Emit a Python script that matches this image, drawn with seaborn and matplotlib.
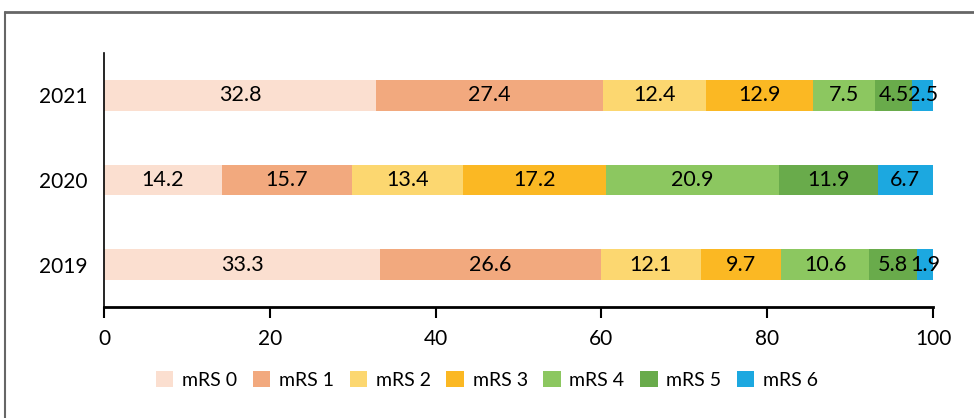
import numpy as np
import seaborn as sns
import matplotlib.pyplot as plt
from matplotlib.lines import Line2D
from matplotlib.patches import Patch

sns.set_theme(style="white")
plt.rcParams['font.family'] = ['Lato', 'DejaVu Sans']

years = ["2021", "2020", "2019"]
categories = ["mRS 0", "mRS 1", "mRS 2", "mRS 3", "mRS 4", "mRS 5", "mRS 6"]
vals_2021 = [32.8, 27.4, 12.4, 12.9, 7.5, 4.5, 2.5]
vals_2020 = [14.2, 15.7, 13.4, 17.2, 20.9, 11.9, 6.7]
vals_2019 = [33.3, 26.6, 12.1, 9.7, 10.6, 5.8, 1.9]
labels_2021 = ["32.8", "27.4", "12.4", "12.9", "7.5", "4.5", "2.5"]
labels_2020 = ["14.2", "15.7", "13.4", "17.2", "20.9", "11.9", "6.7"]
labels_2019 = ["33.3", "26.6", "12.1", "9.7", "10.6", "5.8", "1.9"]
colors = ["#FBDFD0", "#F2A97E", "#FCD770", "#FBB823", "#8CC760", "#69AB4B", "#1CA8E0"]

vals = np.array([vals_2021, vals_2020, vals_2019])
labels = [labels_2021, labels_2020, labels_2019]
cum = vals.cumsum(axis=1)

fig = plt.figure(figsize=(9.74, 4.18), dpi=100)
ax = fig.add_axes([0.1068, 0.2656, 0.958 - 0.1068, 0.873 - 0.2656])

# stacked bars: draw cumulative totals from the widest down
for i in range(len(categories) - 1, -1, -1):
    sns.barplot(x=cum[:, i], y=years, color=colors[i], orient="h",
                width=0.36, saturation=1, ax=ax, linewidth=0)

for r in range(len(years)):
    starts = cum[r] - vals[r]
    for i in range(len(categories)):
        ax.text(starts[i] + vals[r][i] / 2, r, labels[r][i],
                ha="center", va="center", fontsize=15.5, color="black")

ax.set_xlim(0, 100)
ax.set_ylim(2.5, -0.5)
ax.set_xticks([0, 20, 40, 60, 80, 100])
ax.set_xlabel("")
ax.set_ylabel("")
ax.tick_params(axis="x", bottom=True, length=8, width=1.5, direction="out",
               labelsize=15, pad=8, color="black", labelcolor="black")
ax.tick_params(axis="y", left=False, labelsize=15, pad=6, labelcolor="black")
for s in ["top", "right"]:
    ax.spines[s].set_visible(False)
ax.spines["left"].set_color("black")
ax.spines["left"].set_linewidth(1.2)
ax.spines["bottom"].set_color("black")
ax.spines["bottom"].set_linewidth(2)

handles = [Patch(facecolor=c, edgecolor="none") for c in colors]
fig.legend(handles, categories, loc="center", bbox_to_anchor=(0.5, 0.091),
           ncol=7, frameon=False, fontsize=14, handlelength=0.9,
           handleheight=0.9, handletextpad=0.45, columnspacing=0.8,
           labelcolor="black")

# outer frame (top and left edges visible in the crop)
fig.add_artist(Line2D([0.005, 1.0], [0.971, 0.971], color="#666666", lw=2,
                      transform=fig.transFigure))
fig.add_artist(Line2D([0.005, 0.005], [0.0, 0.971], color="#666666", lw=1.5,
                      transform=fig.transFigure))

fig.savefig("out.png", dpi=100)
